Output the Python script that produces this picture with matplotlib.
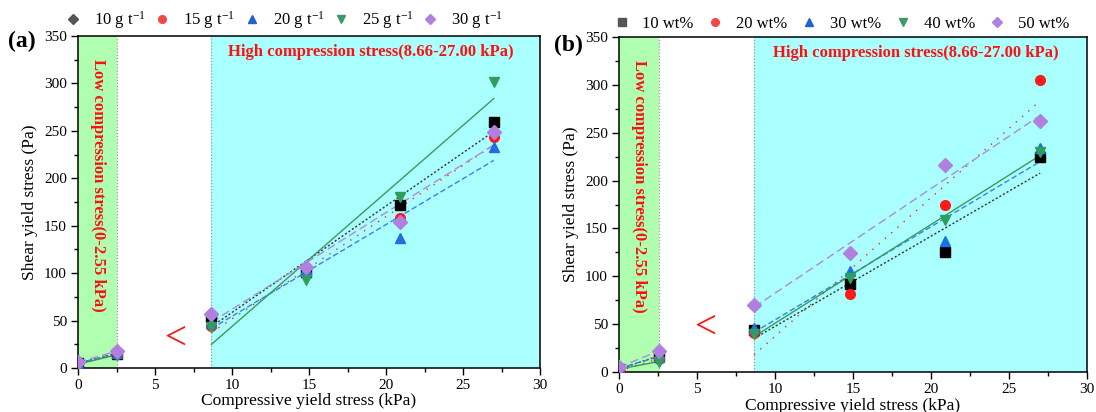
import matplotlib.pyplot as plt
import numpy as np
from matplotlib.lines import Line2D

# compressive yield stress (kPa)
x_low = [0.0, 2.55]
x_high = [8.66, 14.78, 20.89, 27.00]

labels_a = ["10 g t$^{-1}$", "15 g t$^{-1}$", "20 g t$^{-1}$", "25 g t$^{-1}$", "30 g t$^{-1}$"]
labels_b = ["10 wt%", "20 wt%", "30 wt%", "40 wt%", "50 wt%"]

# shear yield stress (Pa), panel (a)
low_a = [[5, 15], [5, 15], [5, 16], [4, 14], [6, 18]]
high_a = [
    [54, 101, 172, 259],
    [44, 99, 158, 244],
    [47, 104, 137, 233],
    [43, 93, 180, 302],
    [57, 107, 154, 249],
]

# panel (b)
low_b = [[3, 17], [1, 14], [4, 16], [3, 11], [5, 22]]
high_b = [
    [44, 92, 125, 225],
    [41, 82, 175, 305],
    [46, 106, 137, 234],
    [40, 98, 159, 230],
    [70, 124, 216, 262],
]

markers = ["s", "o", "^", "v", "D"]
mcolors = ["#000000", "#FF1A1A", "#1F6FE0", "#2E9E5E", "#B07FE0"]
lcolors = ["#333333", "#FF2020", "#3A80E8", "#3A9A5A", "#B088E0"]
lstyles = [(0, (1.5, 1.5)), (0, (1, 5)), (0, (4, 2)), "-", (0, (6, 3))]
leg_colors = ["#555555", "#F04848", "#2060D0", "#3A9A68", "#B080E0"]

plt.rcParams.update({
    "font.family": "Liberation Serif",
    "mathtext.fontset": "custom",
    "mathtext.rm": "Liberation Serif",
    "mathtext.it": "Liberation Serif",
    "xtick.direction": "out",
    "ytick.direction": "out",
})

fig = plt.figure(figsize=(10.96, 4.12), dpi=100)
ax_a = fig.add_axes([0.0712, 0.1068, 0.4215, 0.8058])
ax_b = fig.add_axes([0.5648, 0.097, 0.427, 0.813])


def draw_panel(ax, low, high, labels, leg_markers, lt_pos, tag, tag_pos, leg_x, colsp):
    ax.axvspan(0, 2.55, color="#B0FFB0", zorder=0, lw=0)
    ax.axvspan(8.66, 30, color="#AAFFFF", zorder=0, lw=0)
    for xv in (2.55, 8.66):
        ax.axvline(xv, color="#999999", lw=0.9, ls=(0, (1, 1.5)), zorder=1)

    xh = np.array(x_high)
    for i in range(5):
        ax.plot(x_low, low[i], color=lcolors[i], ls=lstyles[i], lw=1.0, zorder=2)
        k, b = np.polyfit(xh, high[i], 1)
        ax.plot([xh[0], xh[-1]], [k * xh[0] + b, k * xh[-1] + b],
                color=lcolors[i], ls=lstyles[i], lw=1.0, zorder=2)
    for i in range(5):
        ax.plot(x_low + x_high, low[i] + high[i], ls="none", marker=markers[i],
                color=mcolors[i], ms=7, zorder=3)

    ax.set_xlim(0, 30)
    ax.set_ylim(0, 350)
    ax.set_xticks(np.arange(0, 31, 5))
    ax.set_xticks(np.arange(0, 31, 2.5), minor=True)
    ax.set_yticks(np.arange(0, 351, 50))
    ax.set_yticks(np.arange(0, 351, 25), minor=True)
    ax.tick_params(labelsize=11, length=5, width=1, pad=3)
    ax.tick_params(which="minor", length=3, width=1)
    for s in ax.spines.values():
        s.set_linewidth(1.1)
    ax.set_xlabel("Compressive yield stress (kPa)", fontsize=12.5, labelpad=1)
    ax.set_ylabel("Shear yield stress (Pa)", fontsize=12.5, labelpad=4)

    ax.text(1.27, 326, "Low compression stress(0-2.55 kPa)", rotation=-90,
            color="#FF1010", fontsize=12, fontweight="bold", ha="center", va="top")
    ax.text(19.0, 333, "High compression stress(8.66-27.00 kPa)",
            color="#FF1010", fontsize=12, fontweight="bold", ha="center", va="center")
    ax.text(lt_pos[0], lt_pos[1], "<", color="#FF1010", fontsize=28,
            ha="center", va="center")
    ax.text(tag_pos[0], tag_pos[1], tag, transform=ax.transAxes, fontsize=17,
            fontweight="bold", ha="left", va="center")

    handles = [Line2D([], [], ls="none", marker=leg_markers[i], color=leg_colors[i], ms=5.5)
               for i in range(5)]
    ax.legend(handles, labels, ncol=5, loc="lower center", bbox_to_anchor=(leg_x, 0.995),
              frameon=False, fontsize=12, handlelength=0.5, columnspacing=colsp,
              handletextpad=1.0, borderaxespad=0.0)


draw_panel(ax_a, low_a, high_a, labels_a, ["D", "o", "^", "v", "D"], (6.3, 30), "(a)",
           (-0.152, 0.985), 0.45, 0.75)
draw_panel(ax_b, low_b, high_b, labels_b, markers, (5.5, 46), "(b)",
           (-0.138, 0.975), 0.479, 1.05)

fig.savefig("out.png", dpi=100)
